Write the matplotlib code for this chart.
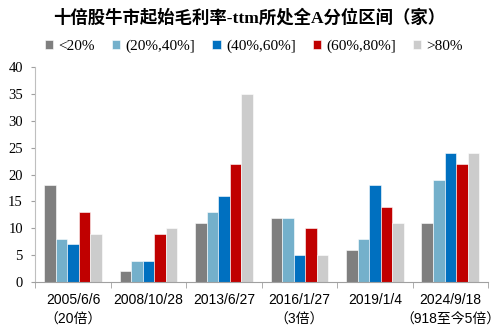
import numpy as np
import matplotlib.pyplot as plt

plt.rcParams['font.family'] = ['Liberation Serif', 'Noto Sans CJK SC']

dates = ['2005/6/6\n（20倍）', '2008/10/28', '2013/6/27', '2016/1/27\n（3倍）',
         '2019/1/4', '2024/9/18\n（918至今5倍）']
bins = ['<20%', '(20%,40%]', '(40%,60%]', '(60%,80%]', '>80%']
lt20 = [18, 2, 11, 12, 6, 11]
p20_40 = [8, 4, 13, 12, 8, 19]
p40_60 = [7, 4, 16, 5, 18, 24]
p60_80 = [13, 9, 22, 10, 14, 22]
gt80 = [9, 10, 35, 5, 11, 24]

series = [lt20, p20_40, p40_60, p60_80, gt80]
colors = ['#7f7f7f', '#74b0cb', '#0070c0', '#c00000', '#cccccc']

fig = plt.figure(figsize=(4.98, 3.35), dpi=100)
ax = fig.add_axes([0.071, 0.158, 0.909, 0.642])

x = np.arange(len(dates))
w = 0.153
for i, (vals, c) in enumerate(zip(series, colors)):
    ax.bar(x + (i - 2) * w, vals, w, color=c, label=bins[i],
           edgecolor='white', linewidth=0.4)

ax.set_xlim(-0.5, len(dates) - 0.5)
ax.set_ylim(0, 40)
ax.set_yticks(range(0, 41, 5))
ax.tick_params(axis='y', labelsize=10.5, length=3, color='#a0a0a0', pad=6)
ax.set_xticks(x)
ax.set_xticklabels(dates, fontsize=10, linespacing=1.5,
                   family=['Liberation Sans', 'Noto Sans CJK SC'])
ax.set_xticks(np.arange(-0.5, len(dates)), minor=True)
ax.tick_params(axis='x', which='major', length=0, pad=8)
ax.tick_params(axis='x', which='minor', length=4, color='#a0a0a0')
for s in ['top', 'right']:
    ax.spines[s].set_visible(False)
ax.spines['left'].set_color('#bfbfbf')
ax.spines['bottom'].set_color('#a0a0a0')

fig.text(0.5, 0.948, '十倍股牛市起始毛利率-ttm所处全A分位区间（家）',
         ha='center', va='center', fontsize=12.5, fontweight='bold')
fig.legend(loc='center', bbox_to_anchor=(0.51, 0.862), ncol=5, frameon=False,
           fontsize=11, handlelength=0.55, handleheight=0.55, handletextpad=0.35,
           columnspacing=1.1)

fig.savefig('out.png', dpi=100)
